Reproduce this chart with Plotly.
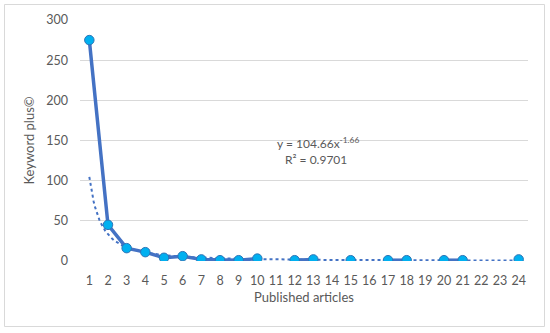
import numpy as np
import plotly.graph_objects as go

articles = list(range(1, 25))
keyword_plus = [275, 45, 16, 11, 4, 6, 2, 1, 1, 3, None, 1, 2, None, 1, None, 1, 1, None, 1, 1, None, None, 2]
tick_labels = [str(a) for a in articles]
fit_a = 104.66
fit_b = -1.66
r2 = 0.9701

xt = np.linspace(1, 24, 300)
yt = fit_a * xt ** fit_b

fig = go.Figure()
fig.add_trace(go.Scatter(x=xt, y=yt, mode="lines",
                         line=dict(color="#4472C4", width=2, dash="dot"),
                         hoverinfo="skip", showlegend=False))
fig.add_trace(go.Scatter(x=articles, y=keyword_plus, mode="lines+markers",
                         connectgaps=False,
                         line=dict(color="#4472C4", width=3.5),
                         marker=dict(size=9.5, color="#00B0F0", line=dict(color="#2E75B6", width=1)),
                         showlegend=False))

font = dict(family="Lato, Open Sans, sans-serif", size=12, color="#595959")
L, R, T, B = 80, 22, 20, 72
pw, ph = 550 - L - R, 333 - T - B
fig.update_layout(
    width=550, height=333,
    margin=dict(l=L, r=R, t=T, b=B, autoexpand=False),
    paper_bgcolor="white", plot_bgcolor="white",
    font=font,
    xaxis=dict(range=[0.5, 24.5], tickvals=articles, ticktext=tick_labels,
               showgrid=False, zeroline=False, showline=False, ticks="",
               ticklabelstandoff=10, tickfont=dict(size=12.5),
               title=dict(text="Published articles", standoff=6, font=dict(size=13, color="#595959"))),
    yaxis=dict(range=[0, 300], dtick=50, showgrid=True, gridcolor="#D9D9D9", gridwidth=1,
               zeroline=False, showline=False, ticks="",
               ticklabelstandoff=11, tickfont=dict(size=12.5),
               title=dict(text="Keyword plus©", standoff=8, font=dict(size=13, color="#595959"))),
    annotations=[
        dict(x=13.25, y=147, xref="x", yref="y", showarrow=False,
             text="y = 104.66x<sup>-1.66</sup>", font=dict(size=12, color="#595959")),
        dict(x=13.15, y=126, xref="x", yref="y", showarrow=False,
             text="R² = %.4f" % r2, font=dict(size=12, color="#595959")),
    ],
    shapes=[dict(type="rect", xref="paper", yref="paper",
                 x0=(4.5 - L) / pw, x1=(544.5 - L) / pw,
                 y0=(T + ph - 326.5) / ph, y1=(T + ph - 4.5) / ph,
                 line=dict(color="#D9D9D9", width=1), layer="below")],
)
fig.write_html("out.html", config={"displayModeBar": False},
               post_script="document.body.style.margin='0';")
